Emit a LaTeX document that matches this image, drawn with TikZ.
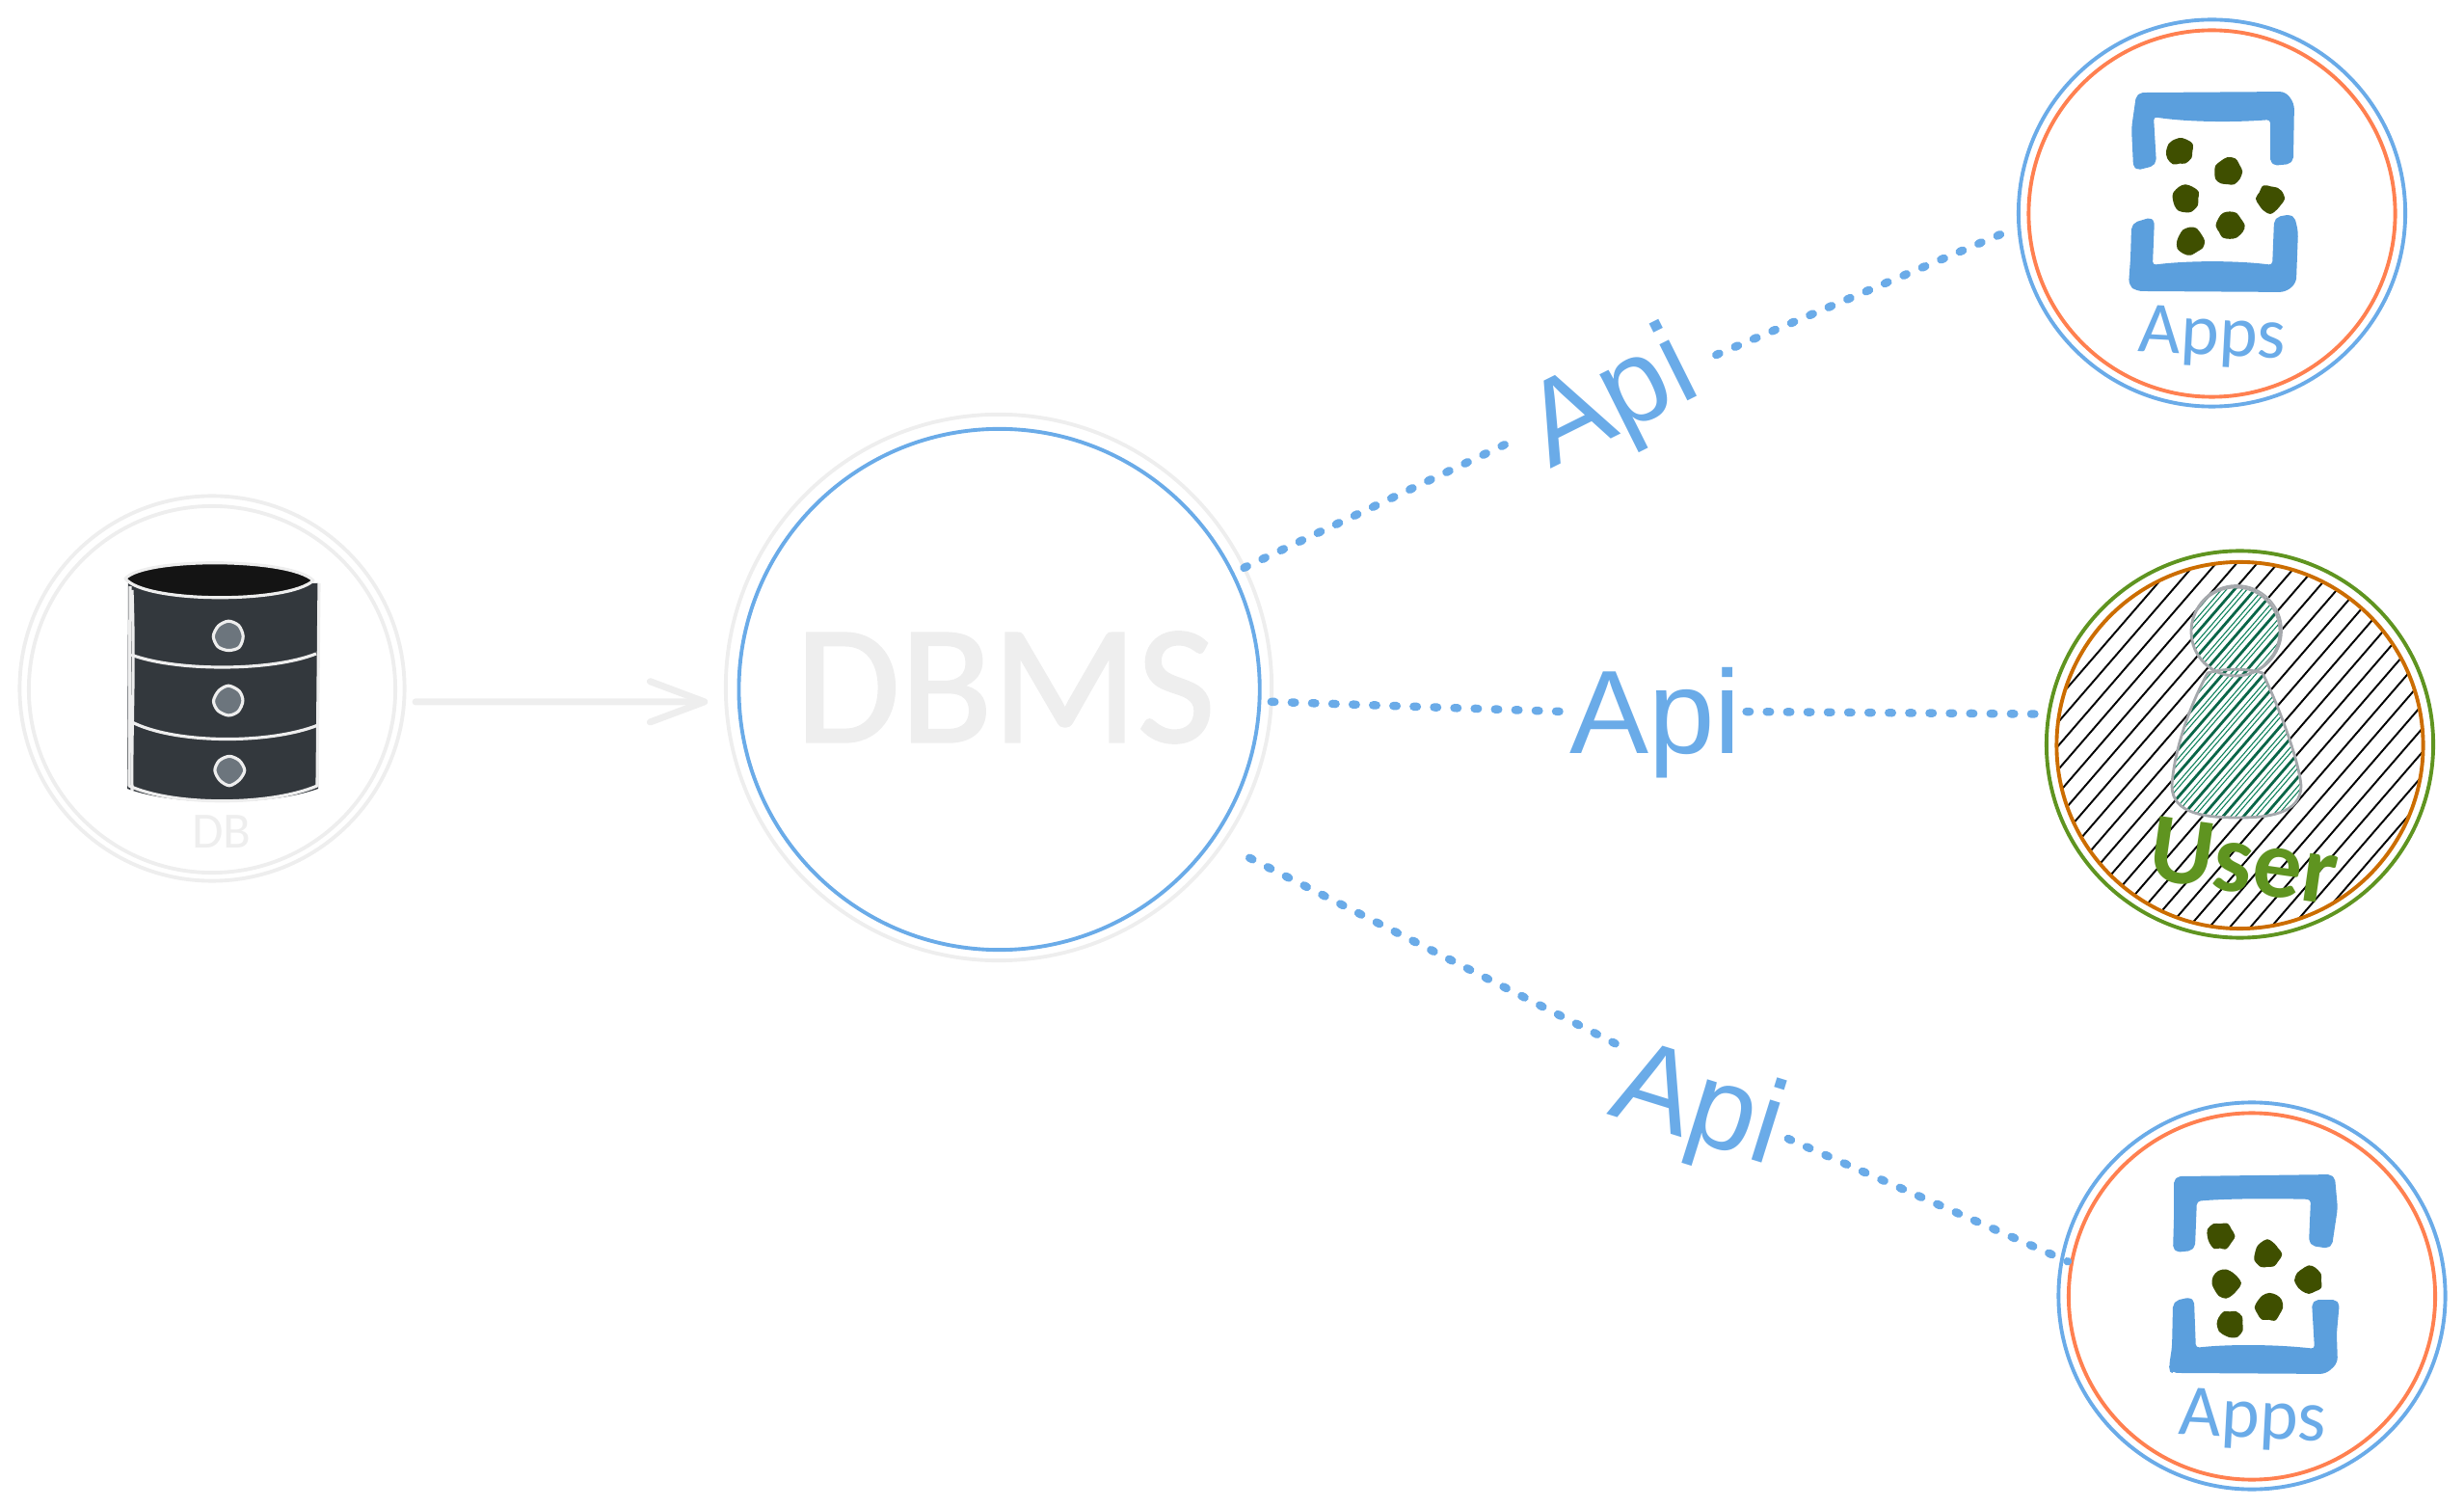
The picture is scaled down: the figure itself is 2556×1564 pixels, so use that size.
\documentclass[tikz,border=0pt]{standalone}
\usepackage{fontspec}
\setmainfont{Carlito}
\newfontfamily\apifont{Liberation Sans}
\newfontfamily\heavyfont[FakeBold=1.4]{Carlito}
\usetikzlibrary{arrows.meta}
\definecolor{ringgrey}{HTML}{EEEEEE}
\definecolor{skyblue}{HTML}{6AABE8}
\definecolor{iconblue}{HTML}{5B9FDD}
\definecolor{coralred}{HTML}{FF8050}
\definecolor{burntorange}{HTML}{CC6D00}
\definecolor{leafgreen}{HTML}{5F9420}
\definecolor{olivedark}{HTML}{3F4F00}
\definecolor{slatedark}{HTML}{33383D}
\definecolor{buttongrey}{HTML}{6C757D}
\definecolor{hatchgreen}{HTML}{0B7F59}
\definecolor{outlinegrey}{HTML}{A5A8AC}
\newcommand{\userhatch}{
	\foreach \k in {-4,...,24} {
		\pgfmathsetmacro{\s}{-230.6+21.3*\k}
		\draw[hatchgreen!80!black,line width=.8pt] ({2323.5+\s-173},973) -- ({2323.5+\s+173},573);
		\draw[hatchgreen,line width=.3pt] ({2323.5+\s+8-173},973) -- ({2323.5+\s+8+173},573);
		\draw[hatchgreen,line width=.3pt] ({2323.5+\s+13-173},973) -- ({2323.5+\s+13+173},573);
	}
}
\newcommand{\blobs}[1]{
	\foreach \x/\y in {#1}
		\fill[blob] plot[smooth cycle,domain=0:330,samples=12,variable=\t] ({\x+(12+1.8*rand)*cos(\t)},{\y+(12+1.8*rand)*sin(\t)});
}
\begin{document}
\begin{tikzpicture}[x=0.01cm,y=-0.01cm,
	ring/.style={circle,draw,line width=1.1pt,inner sep=0,outer sep=0},
	apilabel/.style={font=\apifont\fontsize{35}{35}\selectfont,text=skyblue,anchor=base,
		text height=25pt,text depth=0pt,inner ysep=0pt},
	apiline/.style={skyblue,line width=2.4pt,line cap=round,dash pattern=on 1pt off 5pt},
	icon/.style={fill=iconblue,draw=iconblue,line width=1.1pt,line join=round,rounded corners=1.5pt},
	blob/.style={fill=olivedark,draw=olivedark,line width=1.2pt,line join=round},
	sketch/.style={draw=ringgrey,line width=.9pt,line join=round}]
\useasboundingbox (0,0) rectangle (2556,1564);
\pgfmathsetseed{7}

\node[ring,draw=ringgrey,minimum size=3.99cm] (db) at (220,714) {};
\node[ring,draw=ringgrey,minimum size=3.80cm] (dbinner) at (220,715) {};
\node[ring,draw=ringgrey,minimum size=5.66cm] (dbms) at (1036,713) {};
\node[ring,draw=skyblue,minimum size=5.40cm] (dbmsinner) at (1036.6,715) {};
\node[text=ringgrey,font=\heavyfont\fontsize{50}{50}\selectfont,inner sep=0] (dbmslabel) at (1043,713) {DBMS};

\fill[slatedark] (133,605) -- (132,818) .. controls (180,836) and (280,836) .. (330,818) -- (330,605) -- cycle;
\fill[black!92] (130,600) .. controls (150,578) and (300,578) .. (325,602) .. controls (300,626) and (150,626) .. (130,600) -- cycle;
\draw[sketch] (130,600) .. controls (150,578) and (300,578) .. (325,602) .. controls (300,626) and (150,626) .. (130,600) -- cycle;
\draw[sketch] (135,608) -- (134,815) .. controls (180,836) and (280,836) .. (329,815) -- (331,605);
\draw[sketch] (137,612) .. controls (140,700) and (136,760) .. (137,820);
\draw[sketch] (136,679) .. controls (180,696) and (280,697) .. (328,678);
\draw[sketch] (135,748) .. controls (180,772) and (280,772) .. (330,752);
\foreach \x/\y in {237/660,237/727,238/799}
	\draw[sketch,fill=buttongrey] plot[smooth cycle,domain=0:315,samples=8,variable=\t] ({\x+(15+rand)*cos(\t)},{\y+(15+rand)*sin(\t)});
\node[text=ringgrey,font=\fontsize{15}{15}\selectfont,inner sep=0] (dblabel) at (230,863) {DB};

\node[ring,draw=skyblue,minimum size=4.01cm] (appa) at (2294.5,221) {};
\node[ring,draw=coralred,minimum size=3.80cm] (appainner) at (2294.5,221.5) {};
\draw[icon] (2218,98) -- (2370,97) -- (2378,108) -- (2377,168) -- (2357,170) -- (2357,122)
	.. controls (2320,125) and (2270,125) .. (2232,119) -- (2235,170) -- (2215,175) -- (2213,133) -- cycle;
\draw[icon] (2213,233) -- (2233,227) -- (2231,277) .. controls (2270,272) and (2320,272) .. (2359,277)
	-- (2361,227) -- (2378,224) -- (2382,240) -- (2380,293) -- (2370,301) -- (2217,300) -- (2210,295) -- (2212,267) -- cycle;
\blobs{2261/157,2311/178,2267/206,2355/206,2313/234,2272/250}
\node[text=skyblue,font=\fontsize{21.5}{21.5}\selectfont,inner sep=0,rotate=-3] (appalabel) at (2295,350) {Apps};

\node[ring,draw=skyblue,minimum size=4.01cm] (appc) at (2336,1344) {};
\node[ring,draw=coralred,minimum size=3.80cm] (appcinner) at (2336,1344.5) {};
\draw[icon] (2257,1222) -- (2420,1220) -- (2423,1253) -- (2417,1293) -- (2397,1290) -- (2399,1242)
	.. controls (2360,1241) and (2310,1241) .. (2277,1244) -- (2275,1295) -- (2256,1297) -- (2257,1263) -- cycle;
\draw[icon] (2256,1351) -- (2274,1347) -- (2276,1400) .. controls (2310,1396) and (2360,1396) .. (2403,1401)
	-- (2400,1350) -- (2425,1350) -- (2422,1383) -- (2423,1413) -- (2412,1423) -- (2253,1422) -- (2252,1417) -- (2255,1397) -- cycle;
\blobs{2303/1282,2352/1301,2309/1331,2395/1328,2354/1356,2313/1373}
\node[text=skyblue,font=\fontsize{21.5}{21.5}\selectfont,inner sep=0,rotate=-3] (appclabel) at (2337,1473) {Apps};

\begin{scope}
\clip (2323.5,773) circle[radius=191];
\foreach \k in {-4,...,24} {
	\pgfmathsetmacro{\s}{-230.6+21.3*\k}
	\draw[black,line width=.55pt] ({2323.5+\s-173},973) -- ({2323.5+\s+173},573);
}
\end{scope}
\node[ring,draw=leafgreen,minimum size=4.01cm] (user) at (2323.5,772) {};
\node[ring,draw=burntorange,minimum size=3.80cm] (userinner) at (2323.5,773) {};
\path[fill=white] (2319,655) circle[radius=46];
\path[fill=white] (2290,698) .. controls (2310,692) and (2335,694) .. (2347,698) .. controls (2365,735) and (2385,790) .. (2387,815)
	.. controls (2387,845) and (2350,848) .. (2323,848) .. controls (2290,848) and (2253,845) .. (2253,815) .. controls (2255,780) and (2270,735) .. (2290,698) -- cycle;
\begin{scope}
\clip (2319,655) circle[radius=46];
\userhatch
\end{scope}
\begin{scope}
\clip (2290,698) .. controls (2310,692) and (2335,694) .. (2347,698) .. controls (2365,735) and (2385,790) .. (2387,815)
	.. controls (2387,845) and (2350,848) .. (2323,848) .. controls (2290,848) and (2253,845) .. (2253,815) .. controls (2255,780) and (2270,735) .. (2290,698) -- cycle;
\userhatch
\end{scope}
\draw[outlinegrey,line width=.8pt] (2319,655) circle[radius=46];
\draw[outlinegrey,line width=.5pt] (2320,654) circle[radius=47];
\draw[outlinegrey,line width=.8pt] (2290,698) .. controls (2310,692) and (2335,694) .. (2347,698) .. controls (2365,735) and (2385,790) .. (2387,815)
	.. controls (2387,845) and (2350,848) .. (2323,848) .. controls (2290,848) and (2253,845) .. (2253,815) .. controls (2255,780) and (2270,735) .. (2290,698) -- cycle;
\node[text=leafgreen,font=\bfseries\fontsize{29}{29}\selectfont,inner sep=0,rotate=-8] (userlabel) at (2328,893) {User};

\node[apilabel,rotate=26.5,inner xsep=8pt] (apia) at (1688,447) {Api};
\node[apilabel,inner xsep=1.4pt] (apib) at (1717,782) {Api};
\node[apilabel,rotate=-17.3,inner xsep=2.6pt] (apic) at (1751,1182) {Api};

\draw[ringgrey,line width=2pt,line cap=round,shorten <=3.4pt,shorten >=5.4pt,-{Straight Barb[length=16pt,width=12pt,round]}] (db.-4.6) -- (dbms.183.5);
\draw[apiline] (dbms.26.8) -- (apia.west);
\draw[apiline,shorten >=6pt] (apia.-7) -- (appa.184.8);
\draw[apiline] (dbms.-3.4) -- (apib.west);
\draw[apiline,shorten >=2.8pt] (apib.east) -- (user.171.9);
\draw[apiline,shorten <=9pt] (dbms.-35) -- (apic.164.6);
\draw[apiline,shorten >=-1.8pt] (apic.-7.8) -- (appc.169.7);
\end{tikzpicture}
\end{document}
